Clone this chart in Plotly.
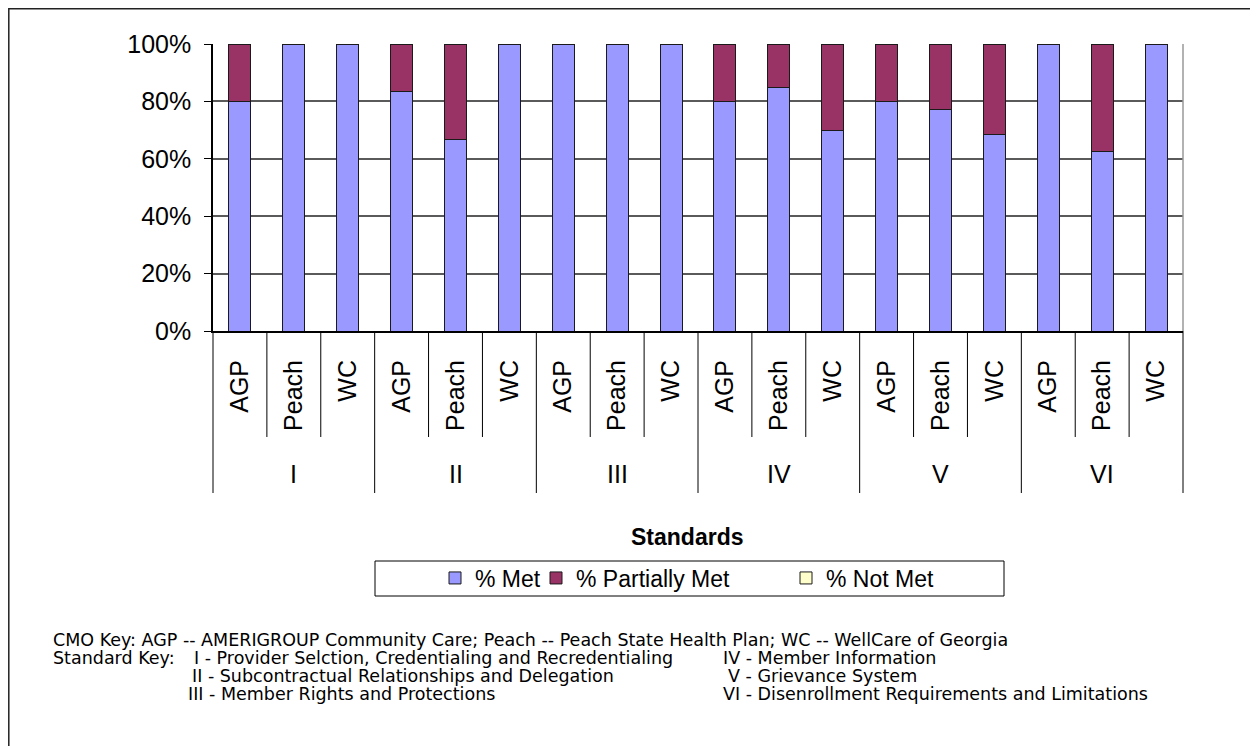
import plotly.graph_objects as go

# ---- data ----
standards = ["I", "II", "III", "IV", "V", "VI"]
plans = ["AGP", "Peach", "WC"]
pct_met = [80, 100, 100, 83.3, 66.7, 100, 100, 100, 100, 80, 85, 70, 80, 77.3, 68.4, 100, 62.5, 100]
pct_partial = [20, 0, 0, 16.7, 33.3, 0, 0, 0, 0, 20, 15, 30, 20, 22.7, 31.6, 0, 37.5, 0]
pct_not_met = [0] * 18
series_names = ["% Met", "% Partially Met", "% Not Met"]
series_colors = ["#9999FF", "#993366", "#FFFFCC"]
yticks = [0, 0.2, 0.4, 0.6, 0.8, 1.0]

footnotes = [
    ("CMO Key: AGP -- AMERIGROUP Community Care; Peach -- Peach State Health Plan; WC -- WellCare of Georgia", 53, 640),
    ("Standard Key:", 53, 658),
    ("I - Provider Selction, Credentialing and Recredentialing", 194, 658),
    ("IV - Member Information", 723, 658),
    ("II - Subcontractual Relationships and Delegation", 192, 676),
    ("V - Grievance System", 728, 676),
    ("III - Member Rights and Protections", 188, 694),
    ("VI - Disenrollment Requirements and Limitations", 723, 694),
]

# ---- geometry (reference pixels; page body adds an 8px offset) ----
OFF = 8
W, H = 1258 - OFF, 746 - OFF
L, R, T, B = 213, 1183, 44, 331
PW, PH = R - L, B - T


def px(x):
    return (x - L) / PW


def py(y):
    return (B - y) / PH


FONT = "Liberation Sans, Arial, sans-serif"
NOTE_FONT = "DejaVu Sans, Liberation Sans, Arial, sans-serif"

n = len(standards) * len(plans)
xs = list(range(n))
ticktext = [p for _ in standards for p in plans]
legend_ids = ["legend", "legend2", "legend3"]
legend_x = [435, 536, 786]

fig = go.Figure()
for name, vals, col, lid in zip(series_names, [pct_met, pct_partial, pct_not_met], series_colors, legend_ids):
    fig.add_trace(go.Bar(
        x=xs, y=[v / 100 for v in vals], name=name, legend=lid,
        marker=dict(color=col, line=dict(color="#1a1a1a", width=1)),
        hoverinfo="skip",
    ))

shapes = []
for k in range(n + 1):
    xp = k / n
    yend = 493 if k % len(plans) == 0 else 437
    shapes.append(dict(type="line", xref="paper", yref="paper", x0=xp, x1=xp,
                       y0=py(B), y1=py(yend), line=dict(color="black", width=1)))
shapes.append(dict(type="line", xref="paper", yref="paper", x0=1, x1=1, y0=0, y1=1,
                   line=dict(color="#999999", width=1.5)))
shapes.append(dict(type="rect", xref="paper", yref="paper", x0=px(375), x1=px(1004),
                   y0=py(596), y1=py(561), line=dict(color="black", width=1)))
# outer frame (as close to the reference's top-left corner as the page allows)
shapes.append(dict(type="rect", xref="paper", yref="paper", x0=px(OFF + 0.8), x1=px(1290),
                   y0=py(790), y1=py(OFF + 0.8), line=dict(color="#222222", width=1.5)))

annotations = []
for gi, s in enumerate(standards):
    annotations.append(dict(text=s, xref="paper", yref="paper",
                            x=(gi * len(plans) + len(plans) / 2) / n, y=py(474),
                            showarrow=False, font=dict(family=FONT, size=25, color="black"),
                            xanchor="center", yanchor="middle"))
annotations.append(dict(text="<b>Standards</b>", xref="paper", yref="paper", x=px(687), y=py(537),
                        showarrow=False, font=dict(family=FONT, size=23, color="black"),
                        xanchor="center", yanchor="middle"))
for txt, x0, yc in footnotes:
    annotations.append(dict(text=txt, xref="paper", yref="paper", x=px(x0), y=py(yc),
                            showarrow=False, font=dict(family=NOTE_FONT, size=17.5, color="black"),
                            xanchor="left", yanchor="middle", xshift=-2))

leg_common = dict(orientation="h", y=py(578), xanchor="left", yanchor="middle",
                  font=dict(family=FONT, size=23, color="black"), bgcolor="rgba(0,0,0,0)",
                  itemclick=False, itemdoubleclick=False)

fig.update_layout(
    width=W, height=H,
    margin=dict(l=L - OFF, r=W - (R - OFF), t=T - OFF, b=H - (B - OFF), pad=0),
    paper_bgcolor="white", plot_bgcolor="white",
    barmode="stack", bargap=0.59,
    font=dict(family=FONT, size=22, color="black"),
    showlegend=True,
    legend=dict(x=px(legend_x[0]), **leg_common),
    legend2=dict(x=px(legend_x[1]), **leg_common),
    legend3=dict(x=px(legend_x[2]), **leg_common),
    xaxis=dict(range=[-0.5, n - 0.5], tickmode="array", tickvals=xs, ticktext=ticktext,
               tickangle=-90, ticks="", ticklabelstandoff=17, showgrid=False, zeroline=False,
               showline=True, linecolor="black", linewidth=2,
               tickfont=dict(family=FONT, size=25, color="black"), fixedrange=True),
    yaxis=dict(range=[0, 1], tickmode="array", tickvals=yticks, tickformat=".0%",
               ticks="outside", ticklen=7, tickcolor="black", tickwidth=1,
               showline=True, linecolor="black", linewidth=1.5,
               showgrid=True, gridcolor="#5a5a5a", gridwidth=1.5, zeroline=False,
               tickfont=dict(family=FONT, size=25, color="black"), ticklabelstandoff=8,
               fixedrange=True),
    shapes=shapes, annotations=annotations,
)

fig.write_html("out.html")
